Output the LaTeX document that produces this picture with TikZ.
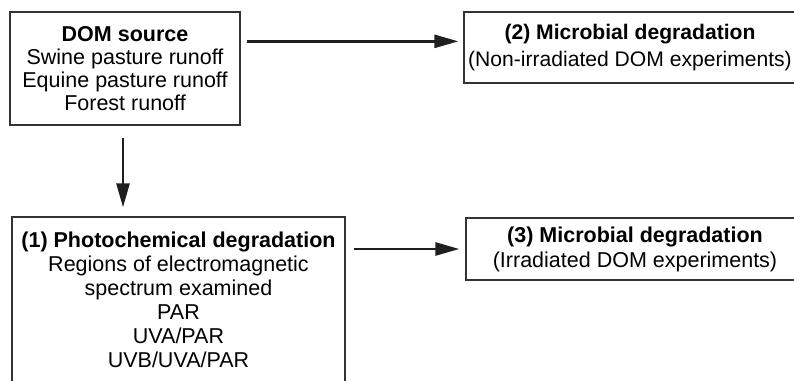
\documentclass[tikz,border=0pt]{standalone}
\usepackage{fontspec}
\setmainfont{Liberation Sans}
\usetikzlibrary{arrows.meta,calc}
\tikzset{
  boxnode/.style={draw=black!80, line width=1.3pt, align=center, inner sep=0pt, font=\fontsize{21.5}{23}\selectfont},
  arr/.style={draw=black!88, line width=2.6pt, -{Triangle[length=24pt,width=13pt]}}
}
\begin{document}
\begin{tikzpicture}[x=1pt,y=1pt]
\useasboundingbox (0,0) rectangle (794,-380);
\clip (0,0) rectangle (794,-380);
\node[boxnode, minimum width=332pt, minimum height=71pt, font=\fontsize{21.1}{27}\selectfont] (b2) at (630,-47.5)
  {\textbf{(2) Microbial degradation}\\(Non-irradiated DOM experiments)};
\node[boxnode, minimum width=230pt, minimum height=113pt] (b1) at (125,-68.5)
  {\textbf{DOM source}\\Swine pasture runoff\\Equine pasture runoff\\Forest runoff};
\node[boxnode, minimum width=333pt, minimum height=166pt, font=\fontsize{21.5}{24}\selectfont] (b3) at (178.5,-300)
  {\textbf{(1) Photochemical degradation}\\Regions of electromagnetic\\spectrum examined\\PAR\\UVA/PAR\\UVB/UVA/PAR};
\node[boxnode, minimum width=338pt, minimum height=62pt, font=\fontsize{21.5}{25}\selectfont] (b4) at (635,-249)
  {\textbf{(3) Microbial degradation}\\(Irradiated DOM experiments)};
\coordinate (a1s) at ([xshift=6pt,yshift=-30pt]b1.north east);
\coordinate (a1e) at ($(b2.west |- a1s)+(-5pt,0)$);
\draw[arr] (a1s) -- (a1e);
\coordinate (a2s) at ([xshift=-2pt,yshift=-12pt]b1.south);
\coordinate (a2e) at ($(a2s |- b3.north)+(0,9pt)$);
\draw[arr] (a2s) -- (a2e);
\coordinate (a3s) at ($(b3.east |- b4.west)+(8pt,0)$);
\coordinate (a3e) at ($(b4.west)+(-6pt,0)$);
\draw[arr] (a3s) -- (a3e);
\end{tikzpicture}
\end{document}
